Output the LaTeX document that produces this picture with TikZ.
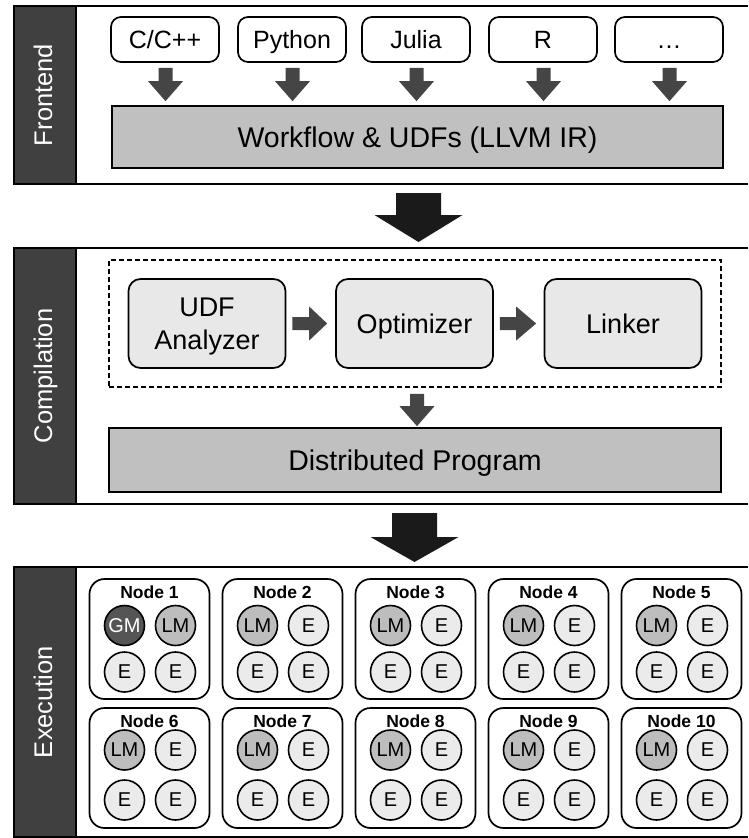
\documentclass[tikz,border=0pt]{standalone}
\usepackage{fontspec}
\setmainfont{Liberation Sans}
\usetikzlibrary{calc}
\definecolor{bardark}{HTML}{404040}
\definecolor{arrowgray}{HTML}{454545}
\definecolor{bigarrow}{HTML}{1A1A1A}
\definecolor{barfill}{HTML}{C0C0C0}
\definecolor{boxfill}{HTML}{E8E8E8}
\definecolor{gmfill}{HTML}{555555}
\definecolor{lmfill}{HTML}{BDBDBD}
\definecolor{efill}{HTML}{EBEBEB}
\newcommand\downblock[6]{%
  \fill[#6] let \p1=(#1), \p2=(#2) in
    (\x1-#3,\y1) -- (\x1+#3,\y1) -- (\x1+#3,\y2+#5) -- (\x1+#4,\y2+#5) -- (\x1,\y2)
    -- (\x1-#4,\y2+#5) -- (\x1-#3,\y2+#5) -- cycle;}
\newcommand\rightblock[6]{%
  \fill[#6] let \p1=(#1), \p2=(#2) in
    (\x1,\y1+#3) -- (\x2-#5,\y1+#3) -- (\x2-#5,\y1+#4) -- (\x2,\y1) -- (\x2-#5,\y1-#4)
    -- (\x2-#5,\y1-#3) -- (\x1,\y1-#3) -- cycle;}
\begin{document}
\begin{tikzpicture}[x=1pt,y=-1pt,
  panel/.style={line width=1.8pt},
  sidebar/.style={fill=bardark, draw=black, line width=1.8pt, inner sep=0pt},
  sidelabel/.style={rotate=90, anchor=base, text=white, inner sep=0pt, font=\fontsize{25.5}{30}\selectfont},
  langbox/.style={draw, line width=1.7pt, rounded corners=10pt, fill=white, minimum width=108pt, minimum height=45pt, inner sep=0pt, text height=17.9pt, text depth=0pt, font=\fontsize{25}{30}\selectfont},
  barbox/.style={draw, line width=1.7pt, fill=barfill, inner sep=0pt, text height=20.4pt, text depth=0pt, font=\fontsize{28.5}{34}\selectfont},
  compbox/.style={draw, line width=1.7pt, fill=boxfill, rounded corners=12pt, minimum width=157pt, minimum height=89pt, inner sep=0pt, font=\fontsize{27}{33}\selectfont},
  onetext/.style={text height=19.3pt, text depth=0pt},
  twotext/.style={align=center, inner sep=0pt, font=\fontsize{27}{33}\selectfont},
  dashbox/.style={draw, line width=1.8pt, dash pattern=on 5pt off 3pt, minimum width=612pt, minimum height=127pt, inner sep=0pt},
  nodebox/.style={draw, line width=1.7pt, rounded corners=15pt, fill=white, minimum width=120pt, minimum height=120pt, inner sep=0pt},
  nodelabel/.style={inner sep=0pt, font=\bfseries\fontsize{17.5}{20}\selectfont},
  proc/.style={circle, draw, line width=1.6pt, minimum size=40pt, inner sep=0pt, font=\fontsize{20}{24}\selectfont},
  gm/.style={proc, fill=gmfill, text=white},
  lm/.style={proc, fill=lmfill},
  ex/.style={proc, fill=efill},
]
\useasboundingbox (0,0) rectangle (748,838);

% ---------------- Frontend panel
\draw[panel] (748,6) -- (14,6) -- (14,184) -- (748,184);
\node[sidebar, minimum width=62pt, minimum height=178pt] (fbar) at (45,95) {};
\node[sidelabel] (flabel) at (52,95) {Frontend};
\node[langbox] (cpp) at (165,39.5) {C/C++};
\node[langbox] (py) at (292,39.5) {Python};
\node[langbox] (jl) at (416,39.5) {Julia};
\node[langbox] (rl) at (543,39.5) {R};
\node[langbox] (dots) at (669,39.5) {\ldots};
\node[barbox, minimum width=611pt, minimum height=62pt] (wf) at (417.5,137) {Workflow \& UDFs (LLVM IR)};
\foreach \lang in {cpp,py,jl,rl,dots}{
  \downblock{$(\lang.south)+(0.5,5)$}{$(\lang.south |- wf.north)+(0.5,-4)$}{7pt}{17.5pt}{20pt}{arrowgray}
}

% ---------------- big arrow 1
\coordinate (fbottom) at (418.5,184);
\coordinate (ctop) at (418.5,248);
\downblock{$(fbottom)+(0,9)$}{$(ctop)+(0,-6)$}{22.5pt}{44pt}{27pt}{bigarrow}

% ---------------- Compilation panel
\draw[panel] (748,248) -- (14,248) -- (14,504) -- (748,504);
\node[sidebar, minimum width=62pt, minimum height=256pt] (cbar) at (45,376) {};
\node[sidelabel] (clabel) at (52,376) {Compilation};
\node[dashbox] (dbox) at (415,323.5) {};
\node[compbox] (udf) at (207,323.5) {};
\node[twotext] (udftext) at ($(udf.center)+(0,3.5)$) {UDF\\Analyzer};
\node[compbox, onetext] (opt) at (414.5,323.5) {Optimizer};
\node[compbox, onetext] (lnk) at (623,323.5) {Linker};
\node[barbox, minimum width=612pt, minimum height=64pt] (dist) at (415,460) {Distributed Program};
\rightblock{$(udf.east)+(6,0)$}{$(opt.west)+(-8,0)$}{6.5pt}{17pt}{18pt}{arrowgray}
\rightblock{$(opt.east)+(6,0)$}{$(lnk.west)+(-7.5,0)$}{6.5pt}{17pt}{20pt}{arrowgray}
\downblock{$(dbox.south)+(2,6)$}{$(dist.north)+(2,-1)$}{7pt}{17.5pt}{20pt}{arrowgray}

% ---------------- big arrow 2
\coordinate (cbottom) at (414.5,504);
\coordinate (etop) at (414.5,567);
\downblock{$(cbottom)+(0,9)$}{$(etop)+(0,-5)$}{22.5pt}{44pt}{25pt}{bigarrow}

% ---------------- Execution panel
\draw[panel] (748,567) -- (14,567) -- (14,837) -- (748,837);
\node[sidebar, minimum width=62pt, minimum height=270pt] (ebar) at (45,702) {};
\node[sidelabel] (elabel) at (52,702) {Execution};
\foreach \c in {0,...,4}{
  \foreach \r/\top/\ya/\yb in {0/579/625.5/672, 1/708/750/800}{
    \pgfmathtruncatemacro\k{\c+1+5*\r}
    \pgfmathsetmacro\lx{89+133*\c}
    \node[nodebox] (n\k) at (\lx+60.5,\top+60) {};
    \node[nodelabel] (n\k label) at (\lx+60.5,\top+13) {Node \k};
    \ifnum\k=1
      \node[gm] (n\k a) at (\lx+35.5,\ya) {GM};
    \else
      \node[lm] (n\k a) at (\lx+35.5,\ya) {LM};
    \fi
    \ifnum\k=1
      \node[lm] (n\k b) at (\lx+86.5,\ya) {LM};
    \else
      \node[ex] (n\k b) at (\lx+86.5,\ya) {E};
    \fi
    \node[ex] (n\k c) at (\lx+35.5,\yb) {E};
    \node[ex] (n\k d) at (\lx+86.5,\yb) {E};
  }
}
\end{tikzpicture}
\end{document}
